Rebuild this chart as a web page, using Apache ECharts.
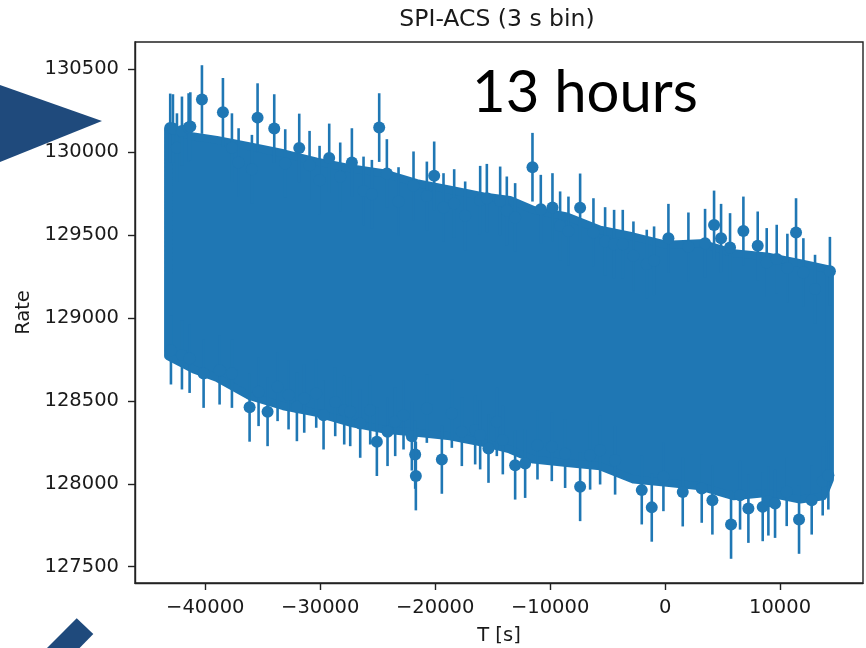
<!DOCTYPE html>
<html><head><meta charset="utf-8">
<script src="https://cdn.jsdelivr.net/npm/echarts@6/dist/echarts.min.js"></script>
<style>html,body{margin:0;padding:0;background:#fff}#c{width:866px;height:648px}</style>
</head><body><div id="c"></div>
<script>
// ---- data ----
const xTicks = [-40000, -30000, -20000, -10000, 0, 10000];
const yTicks = [127500, 128000, 128500, 129000, 129500, 130000, 130500];

// dense core of the light curve (solid region): time, lower edge, upper edge
const bandT = [-43235, -41000, -39000, -36100, -33200, -30300, -27400, -24500, -21600, -18700, -15800, -13500, -11450, -8550, -5650, -2750, 150, 3050, 5950, 8850, 11750, 13750, 14339];
const bandLow = [128769, 128690, 128639, 128528, 128468, 128428, 128368, 128328, 128308, 128287, 128247, 128207, 128146, 128126, 128106, 128026, 128006, 127985, 127925, 127945, 127905, 127925, 128026];
const bandHigh = [130134, 130094, 130074, 130034, 129993, 129943, 129903, 129873, 129813, 129773, 129733, 129712, 129652, 129612, 129532, 129491, 129441, 129451, 129391, 129371, 129331, 129300, 129291];

// individual bins standing out above the core: [T, rate, error]
const upperPoints = [
  [-43050,130146,207],[-42812,130142,207],[-42464,130027,207],[-42029,130128,207],[-41450,130148,207],[-41300,130154,207],
  [-40290,130317,207],[-38464,130240,207],[-37681,130027,207],[-37101,129937,207],[-35942,129897,207],[-35450,130208,207],
  [-34000,130142,207],[-33044,129931,207],[-31826,130025,207],[-30928,129921,207],[-30058,129831,207],[-29218,129965,207],
  [-28261,129851,207],[-27246,129937,207],[-26232,129766,207],[-25507,129746,207],[-24870,130148,207],[-24203,129871,207],
  [-23188,129702,207],[-21884,129797,207],[-20724,129736,207],[-20086,129857,207],[-19275,129666,207],[-18347,129690,207],
  [-17391,129616,207],[-16086,129710,207],[-15506,129722,207],[-14347,129706,207],[-13768,129646,207],[-13044,129606,207],
  [-11536,129909,207],[-10812,129656,207],[-9797,129666,207],[-9131,129556,207],[-8406,129525,207],[-7391,129664,207],
  [-6232,129515,207],[-5217,129461,207],[-4435,129445,207],[-3681,129445,207],[-2754,129375,207],[-1594,129325,207],
  [-957,129345,207],[290,129481,207],[2029,129429,207],[3478,129451,207],[4261,129561,207],[4870,129481,207],
  [5652,129425,207],[6812,129525,207],[8058,129435,207],[8841,129335,207],[9711,129355,207],[10638,129301,207],
  [11392,129515,207],[12030,129274,207],[13044,129174,207],[14339,129282,207]
];
// individual bins standing out below the core: [T, rate, error]
const lowerPoints = [
  [-42986,128806,207],[-42029,128776,207],[-41363,128755,207],[-40145,128665,207],[-38754,128685,207],[-37681,128665,207],
  [-36145,128461,207],[-35363,128555,207],[-34580,128434,207],[-33710,128585,207],[-32754,128535,207],[-32029,128464,207],
  [-31391,128515,207],[-30348,128545,207],[-29710,128414,207],[-28696,128494,207],[-27913,128444,207],[-27391,128434,207],
  [-26522,128364,207],[-25652,128444,207],[-25073,128254,207],[-24145,128314,207],[-23478,128374,207],[-22754,128414,207],
  [-22029,128287,207],[-21739,128177,207],[-21681,128047,207],[-20725,128454,207],[-19420,128147,207],[-18551,128424,207],
  [-17681,128314,207],[-16522,128324,207],[-16087,128294,207],[-15362,128213,207],[-14638,128374,207],[-14116,128264,207],
  [-13044,128112,207],[-12174,128122,207],[-11101,128233,207],[-9855,128223,207],[-8696,128182,207],[-7391,127982,207],
  [-6522,128172,207],[-5652,128203,207],[-4348,128142,207],[-2029,127962,207],[-1159,127858,207],[-145,128042,207],
  [1536,127950,207],[3188,127972,207],[4116,127901,207],[5739,127755,207],[6522,127931,207],[7247,127851,207],
  [8493,127861,207],[8986,127895,207],[9566,127881,207],[10580,127952,207],[11653,127785,207],[12754,127901,207],
  [13710,128016,207],[14203,128052,207]
];

const titleText = 'SPI-ACS (3 s bin)';
const noteText = '13 hours';
const xName = 'T [s]';
const yName = 'Rate';

// ---- styling ----
const BLUE = '#1f77b4';
const DECO = '#1f4a7c';
const FONT = 'DejaVu Sans';
const INK = '#1a1a1a';

const chart = echarts.init(document.getElementById('c'), null, {renderer: 'canvas', width: 866, height: 648});

function renderErr(params, api) {
  const x = api.value(0), y = api.value(1), e = api.value(2);
  const a = api.coord([x, y + e]), b = api.coord([x, y - e]), c = api.coord([x, y]);
  return {type: 'group', children: [
    {type: 'line', shape: {x1: a[0], y1: a[1], x2: b[0], y2: b[1]}, style: {stroke: BLUE, lineWidth: 2.6}},
    {type: 'circle', shape: {cx: c[0], cy: c[1], r: 6}, style: {fill: BLUE}}
  ]};
}

const axisFont = {fontFamily: FONT, fontSize: 19.5, color: INK};

chart.setOption({
  animation: false,
  backgroundColor: '#fff',
  grid: {left: 135, right: 3, top: 42, bottom: 65, outerBoundsMode: 'none', containLabel: false, show: true, borderColor: '#222', borderWidth: 1.4, backgroundColor: 'transparent'},
  xAxis: {
    type: 'value', min: -46113, max: 17217,
    axisLine: {show: true, onZero: false, lineStyle: {color: '#222', width: 1.4}},
    splitLine: {show: false},
    axisTick: {show: true, length: 7, lineStyle: {color: '#222', width: 1.4}, customValues: xTicks},
    axisLabel: Object.assign({customValues: xTicks, margin: 15, formatter: v => String(v).replace('-', '\u2212')}, axisFont),
    name: xName, nameLocation: 'middle', nameGap: 43, nameTextStyle: axisFont
  },
  yAxis: {
    type: 'value', min: 127402, max: 130664,
    axisLine: {show: true, onZero: false, lineStyle: {color: '#222', width: 1.4}},
    splitLine: {show: false},
    axisTick: {show: true, length: 7, lineStyle: {color: '#222', width: 1.4}, customValues: yTicks},
    axisLabel: Object.assign({customValues: yTicks, margin: 16, formatter: v => String(v)}, axisFont),
    name: yName, nameLocation: 'middle', nameGap: 100, nameTextStyle: axisFont
  },
  series: [
    {
      type: 'custom', name: 'core',
      data: bandT.map((t, i) => [t, bandLow[i], bandHigh[i]]),
      encode: {x: 0, y: [1, 2]},
      renderItem: function (params, api) {
        if (params.dataIndex !== 0) return null;
        const pts = [];
        for (let i = 0; i < bandT.length; i++) pts.push(api.coord([bandT[i], bandHigh[i]]));
        for (let i = bandT.length - 1; i >= 0; i--) pts.push(api.coord([bandT[i], bandLow[i]]));
        return {type: 'polygon', shape: {points: pts}, style: {fill: BLUE, stroke: BLUE, lineWidth: 8, lineJoin: 'round'}};
      }
    },
    {type: 'custom', name: 'upper', data: upperPoints, encode: {x: 0, y: 1}, renderItem: renderErr},
    {type: 'custom', name: 'lower', data: lowerPoints, encode: {x: 0, y: 1}, renderItem: renderErr}
  ],
  graphic: [
    {type: 'text', x: 497, y: 20, style: {text: titleText, fontFamily: FONT, fontSize: 23.5, fill: INK, align: 'center', verticalAlign: 'middle'}},
    {type: 'text', x: 472, y: 93, z: 10, style: {text: noteText, fontFamily: 'Lato', fontSize: 58, fill: '#000', align: 'left', verticalAlign: 'middle'}},
    {type: 'polygon', shape: {points: [[-10, 81.5], [102, 121], [-10, 166]]}, style: {fill: DECO}},
    {type: 'polygon', shape: {points: [[76.7, 618.3], [93.3, 634], [62, 666], [45, 650]]}, style: {fill: DECO}}
  ]
});
</script>
</body></html>
